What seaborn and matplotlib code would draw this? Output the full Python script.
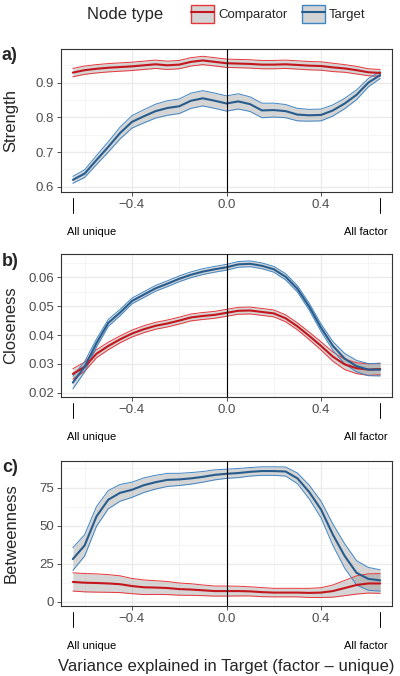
import numpy as np
import pandas as pd
import matplotlib.pyplot as plt
import seaborn as sns
from matplotlib.patches import Patch
from matplotlib.lines import Line2D
from matplotlib.legend_handler import HandlerTuple

# variance explained in Target (factor - unique)
x_vals = [-0.65, -0.60, -0.55, -0.50, -0.45, -0.40, -0.35, -0.30, -0.25, -0.20,
          -0.15, -0.10, -0.05, 0.00, 0.05, 0.10, 0.15, 0.20, 0.25, 0.30,
          0.35, 0.40, 0.45, 0.50, 0.55, 0.60, 0.65]

# a) Strength
strength_target = [0.620, 0.638, 0.677, 0.715, 0.755, 0.787, 0.803, 0.818, 0.827, 0.832,
                   0.848, 0.855, 0.848, 0.840, 0.846, 0.838, 0.820, 0.821, 0.818, 0.808,
                   0.806, 0.807, 0.820, 0.840, 0.865, 0.900, 0.922]
strength_target_hw = [0.010, 0.011, 0.013, 0.015, 0.017, 0.018, 0.019, 0.020, 0.021, 0.021,
                      0.022, 0.022, 0.022, 0.022, 0.022, 0.021, 0.021, 0.020, 0.019, 0.018,
                      0.017, 0.017, 0.016, 0.015, 0.014, 0.012, 0.010]
strength_comp = [0.929, 0.936, 0.940, 0.943, 0.945, 0.947, 0.950, 0.953, 0.950, 0.952,
                 0.960, 0.964, 0.960, 0.956, 0.955, 0.954, 0.952, 0.952, 0.953, 0.951,
                 0.949, 0.948, 0.944, 0.941, 0.936, 0.930, 0.928]
strength_comp_hw = [0.012, 0.012, 0.012, 0.012, 0.012, 0.012, 0.012, 0.012, 0.012, 0.012,
                    0.012, 0.012, 0.012, 0.012, 0.012, 0.012, 0.012, 0.012, 0.012, 0.012,
                    0.012, 0.012, 0.012, 0.011, 0.011, 0.010, 0.010]

# b) Closeness
close_target = [0.0235, 0.0290, 0.0372, 0.0442, 0.0478, 0.0518, 0.0540, 0.0562, 0.0578, 0.0595,
                0.0609, 0.0620, 0.0628, 0.0635, 0.0645, 0.0647, 0.0640, 0.0628, 0.0602, 0.0560,
                0.0498, 0.0425, 0.0362, 0.0318, 0.0292, 0.0280, 0.0280]
close_target_hw = [0.0022, 0.0018, 0.0014, 0.0012, 0.0011, 0.0010, 0.0010, 0.0010, 0.0010, 0.0010,
                   0.0010, 0.0010, 0.0010, 0.0010, 0.0010, 0.0010, 0.0010, 0.0010, 0.0011, 0.0011,
                   0.0012, 0.0013, 0.0015, 0.0018, 0.0020, 0.0021, 0.0022]
close_comp = [0.0265, 0.0290, 0.0335, 0.0362, 0.0385, 0.0405, 0.0420, 0.0432, 0.0440, 0.0450,
              0.0461, 0.0466, 0.0470, 0.0477, 0.0484, 0.0485, 0.0480, 0.0475, 0.0458, 0.0430,
              0.0397, 0.0362, 0.0325, 0.0298, 0.0285, 0.0280, 0.0282]
close_comp_hw = [0.0018, 0.0016, 0.0014, 0.0013, 0.0012, 0.0012, 0.0012, 0.0012, 0.0012, 0.0012,
                 0.0012, 0.0012, 0.0012, 0.0012, 0.0012, 0.0012, 0.0012, 0.0012, 0.0012, 0.0012,
                 0.0013, 0.0014, 0.0016, 0.0018, 0.0019, 0.0020, 0.0020]

# c) Betweenness
betw_target = [28, 37, 56, 67, 71.5, 73.5, 76.5, 78.5, 80, 80.3,
               81, 82, 83.3, 84, 84.5, 85.3, 85.8, 85.8, 85.5, 81,
               72, 60.5, 44, 30, 19, 15, 14]
betw_target_hw = [7.5, 7, 6.5, 6, 5.5, 5, 4.8, 4.5, 4.3, 4,
                  3.8, 3.5, 3.3, 3, 3, 2.8, 2.8, 2.8, 3, 3.5,
                  4.5, 5.5, 7, 8, 8, 7.5, 7]
betw_comp = [13, 12.5, 12.3, 12, 11.5, 10.3, 9.5, 9.3, 9, 8.3,
             8, 7.5, 7, 7, 7, 6.8, 6.3, 6, 6, 6,
             5.8, 6, 7, 9, 11, 12, 12]
betw_comp_hw = [6, 6, 6, 5.8, 5.5, 5, 4.8, 4.5, 4.3, 4,
                3.8, 3.5, 3.3, 3.3, 3.2, 3, 3, 2.8, 2.8, 2.8,
                3, 3.2, 4, 5, 6, 6.3, 6.5]

node_types = ["Comparator", "Target"]
edge_colors = {"Comparator": "#E8363A", "Target": "#3F86C6"}
line_colors = {"Comparator": "#C4161C", "Target": "#275D8E"}


def make_frame(comp, comp_hw, target, target_hw):
    rows = []
    for name, m, hw in [("Comparator", comp, comp_hw), ("Target", target, target_hw)]:
        m = np.array(m, dtype=float)
        hw = np.array(hw, dtype=float)
        rows.append(pd.DataFrame({"x": x_vals, "mean": m, "lo": m - hw, "hi": m + hw,
                                  "type": name}))
    return pd.concat(rows, ignore_index=True)


panels = [
    ("a)", "Strength", make_frame(strength_comp, strength_comp_hw, strength_target, strength_target_hw),
     (0.585, 0.997), [0.6, 0.7, 0.8, 0.9], ["0.6", "0.7", "0.8", "0.9"], 49, 192),
    ("b)", "Closeness", make_frame(close_comp, close_comp_hw, close_target, close_target_hw),
     (0.0185, 0.0681), [0.02, 0.03, 0.04, 0.05, 0.06], ["0.02", "0.03", "0.04", "0.05", "0.06"], 254, 397),
    ("c)", "Betweenness", make_frame(betw_comp, betw_comp_hw, betw_target, betw_target_hw),
     (-2.8, 92.4), [0, 25, 50, 75], ["0", "25", "50", "75"], 461, 606),
]

sns.set_style("white")
plt.rcParams["font.family"] = ["Liberation Sans", "DejaVu Sans"]

W, H = 400, 676
fig = plt.figure(figsize=(4, 6.76), dpi=100)

for label, ylab, df, ylim, yticks, yticklabels, top, bottom in panels:
    ax = fig.add_axes([61 / W, 1 - bottom / H, 331 / W, (bottom - top) / H])
    ax.set_xlim(-0.70, 0.70)

    # grid like theme_bw
    step = yticks[1] - yticks[0]
    ax.set_xticks([-0.4, 0.0, 0.4])
    ax.set_xticks([-0.6, -0.2, 0.2, 0.6], minor=True)
    ax.set_yticks(yticks)
    ax.set_yticks([v + step / 2 for v in [yticks[0] - step] + yticks], minor=True)
    ax.set_ylim(*ylim)
    ax.grid(which="major", color="#EBEBEB", lw=1.0)
    ax.grid(which="minor", color="#F2F2F2", lw=0.5)
    ax.set_axisbelow(True)

    for t in node_types:
        d = df[df["type"] == t]
        ax.fill_between(d["x"], d["lo"], d["hi"], color="#7F7F7F", alpha=0.32, lw=0, zorder=2)
        ax.plot(d["x"], d["lo"], color=edge_colors[t], lw=0.7, zorder=3)
        ax.plot(d["x"], d["hi"], color=edge_colors[t], lw=0.7, zorder=3)

    sns.lineplot(data=df, x="x", y="mean", hue="type", hue_order=node_types,
                 palette=line_colors, errorbar=None, linewidth=1.5, legend=False,
                 ax=ax, zorder=4)

    ax.axvline(0, color="black", lw=0.8, zorder=5)

    ax.set_xticklabels(["\u22120.4", "0.0", "0.4"])
    ax.set_yticklabels(yticklabels)
    ax.tick_params(which="major", length=3, width=0.6, color="#333333", pad=2,
                   labelsize=9.5, labelcolor="#4D4D4D", bottom=True, left=True)
    ax.tick_params(which="minor", length=0)
    ax.set_xlabel("")
    ax.set_ylabel("")
    for s in ax.spines.values():
        s.set_color("#333333")
        s.set_linewidth(0.8)

    # end markers below the axis
    h_px = bottom - top
    xt = ax.get_xaxis_transform()
    for xv in [x_vals[0], x_vals[-1]]:
        ax.plot([xv, xv], [-6 / h_px, -21 / h_px], transform=xt,
                color="black", lw=0.7, clip_on=False)
    ax.text(x_vals[0] - 0.025, -40 / h_px, "All unique", transform=xt,
            ha="left", va="center", fontsize=8, color="black")
    ax.text(x_vals[-1] + 0.03, -40 / h_px, "All factor", transform=xt,
            ha="right", va="center", fontsize=8, color="black")

    fig.text(2 / W, 1 - (top + 7) / H, label, fontsize=13, fontweight="bold",
             ha="left", va="center")
    fig.text(11 / W, 1 - (top + bottom) / 2 / H, ylab, rotation=90, fontsize=12,
             ha="center", va="center")

fig.text(226 / W, 1 - 666 / H, "Variance explained in Target (factor \u2013 unique)",
         fontsize=12, ha="center", va="center")

# legend
handles = [(Patch(facecolor="#D4D4D4", edgecolor=edge_colors[t], lw=1.0),
            Line2D([], [], color=line_colors[t], lw=1.5)) for t in node_types]
fig.text(125 / W, 1 - 14 / H, "Node type", fontsize=12, ha="center", va="center")
fig.legend(handles, node_types, handler_map={tuple: HandlerTuple(ndivide=1, pad=0)},
           loc="center left", bbox_to_anchor=(191 / W, 1 - 14 / H), ncol=2, frameon=False,
           fontsize=9.5, handlelength=1.75, handleheight=1.75, handletextpad=0.3,
           columnspacing=1.1, borderpad=0, borderaxespad=0)

fig.savefig("out.png", dpi=100)
